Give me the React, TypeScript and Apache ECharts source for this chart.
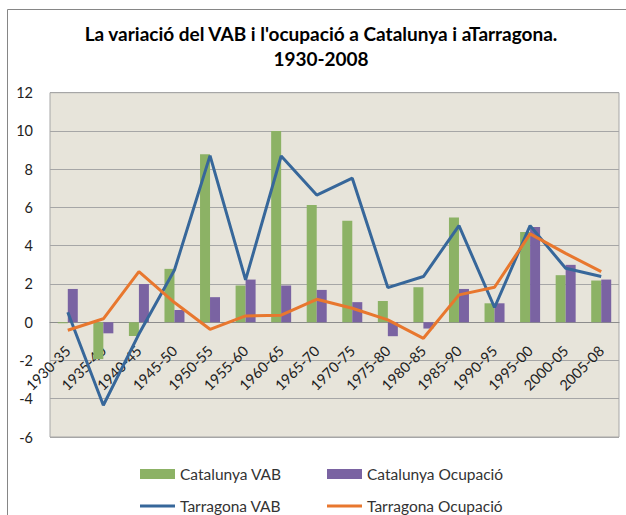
import React, { useEffect, useRef } from "react";
import * as echarts from "echarts";

const categories = [
  "1930-35", "1935-40", "1940-45", "1945-50", "1950-55", "1955-60", "1960-65", "1965-70",
  "1970-75", "1975-80", "1980-85", "1985-90", "1990-95", "1995-00", "2000-05", "2005-08",
];
const catalunyaVAB = [-0.05, -1.93, -0.72, 2.79, 8.78, 1.92, 10.0, 6.13, 5.3, 1.11, 1.83, 5.47, 0.99, 4.72, 2.46, 2.18];
const catalunyaOcupacio = [1.74, -0.58, 2.0, 0.64, 1.31, 2.23, 1.92, 1.69, 1.05, -0.73, -0.33, 1.74, 0.99, 4.98, 3.0, 2.23];
const tarragonaVAB = [0.52, -4.34, -0.62, 2.73, 8.71, 2.21, 8.69, 6.65, 7.53, 1.81, 2.39, 5.05, 0.77, 5.05, 2.82, 2.39];
const tarragonaOcupacio = [-0.42, 0.18, 2.65, 1.03, -0.37, 0.33, 0.37, 1.2, 0.73, 0.12, -0.84, 1.43, 1.83, 4.62, 3.6, 2.65];
const seriesNames = ["Catalunya VAB", "Catalunya Ocupació", "Tarragona VAB", "Tarragona Ocupació"];
const titleLines = ["La variació del VAB i l'ocupació a Catalunya i aTarragona.", "1930-2008"];
const yMin = -6;
const yMax = 12;

const FONT = "Lato, 'Noto Sans', sans-serif";
const GREEN = "#8CB265";
const PURPLE = "#7A63A2";
const BLUE = "#37679A";
const ORANGE = "#E8772E";

const GRID_TOP = 92.7;
const GRID_BOTTOM = 78;
const H = 515;

export default function App() {
  const ref = useRef<HTMLDivElement>(null);
  useEffect(() => {
    if (!ref.current) return;
    const chart = echarts.init(ref.current, null, { renderer: "svg" });
    const plotH = H - GRID_TOP - GRID_BOTTOM;
    const zeroOffset = ((0 - yMin) / (yMax - yMin)) * plotH;
    const legendPos = [
      { left: 140, top: 466, h: 10 },
      { left: 327, top: 466, h: 10 },
      { left: 140, top: 498, h: 3 },
      { left: 327, top: 498, h: 3 },
    ];
    chart.setOption({
      animation: false,
      backgroundColor: "#ffffff",
      textStyle: { fontFamily: FONT },
      title: {
        text: titleLines.join("\n"),
        left: 316,
        textAlign: "center",
        top: 16,
        textStyle: { fontFamily: FONT, fontSize: 19, fontWeight: "bold", color: "#000", lineHeight: 25 },
      },
      graphic: [
        {
          type: "rect",
          shape: { x: 7.5, y: 9.5, width: 700, height: 600 },
          style: { fill: "none", stroke: "#868686", lineWidth: 1 },
          silent: true,
          z: 100,
        },
      ],
      legend: seriesNames.map((n, i) => ({
        data: [{ name: n, icon: "rect" }],
        left: legendPos[i].left,
        top: legendPos[i].top,
        itemWidth: 35,
        itemHeight: legendPos[i].h,
        itemGap: 5,
        padding: 0,
        selectedMode: false,
        textStyle: { fontFamily: FONT, fontSize: 15.5, color: "#333" },
      })),
      grid: {
        left: 50,
        right: 7,
        top: GRID_TOP,
        bottom: GRID_BOTTOM,
        show: true,
        backgroundColor: "#E7E4DA",
        borderColor: "#A6A6A6",
        borderWidth: 1,
      },
      xAxis: {
        type: "category",
        data: categories,
        offset: -zeroOffset,
        axisLine: { onZero: false, lineStyle: { color: "#8C8C8C", width: 1 } },
        axisTick: { show: false },
        axisLabel: {
          rotate: 45,
          interval: 0,
          margin: 26,
          fontFamily: FONT,
          fontSize: 14.5,
          color: "#222",
        },
      },
      yAxis: {
        type: "value",
        min: yMin,
        max: yMax,
        interval: 2,
        axisLine: { show: false },
        axisTick: { show: false },
        axisLabel: { margin: 17, fontFamily: FONT, fontSize: 14.5, color: "#222" },
        splitLine: { lineStyle: { color: "#A6A6A6", width: 1 } },
      },
      series: [
        {
          name: seriesNames[0],
          type: "bar",
          data: catalunyaVAB,
          barWidth: 10,
          barGap: "0%",
          itemStyle: { color: GREEN },
        },
        {
          name: seriesNames[1],
          type: "bar",
          data: catalunyaOcupacio,
          barWidth: 10,
          barGap: "0%",
          itemStyle: { color: PURPLE },
        },
        {
          name: seriesNames[2],
          type: "line",
          data: tarragonaVAB,
          symbol: "none",
          lineStyle: { color: BLUE, width: 3 },
          itemStyle: { color: BLUE },
          z: 3,
        },
        {
          name: seriesNames[3],
          type: "line",
          data: tarragonaOcupacio,
          symbol: "none",
          lineStyle: { color: ORANGE, width: 3 },
          itemStyle: { color: ORANGE },
          z: 4,
        },
      ],
    });
    return () => chart.dispose();
  }, []);
  return (
    <div
      ref={ref}
      style={{ position: "absolute", left: 0, top: 0, width: 626, height: 515 }}
    />
  );
}
